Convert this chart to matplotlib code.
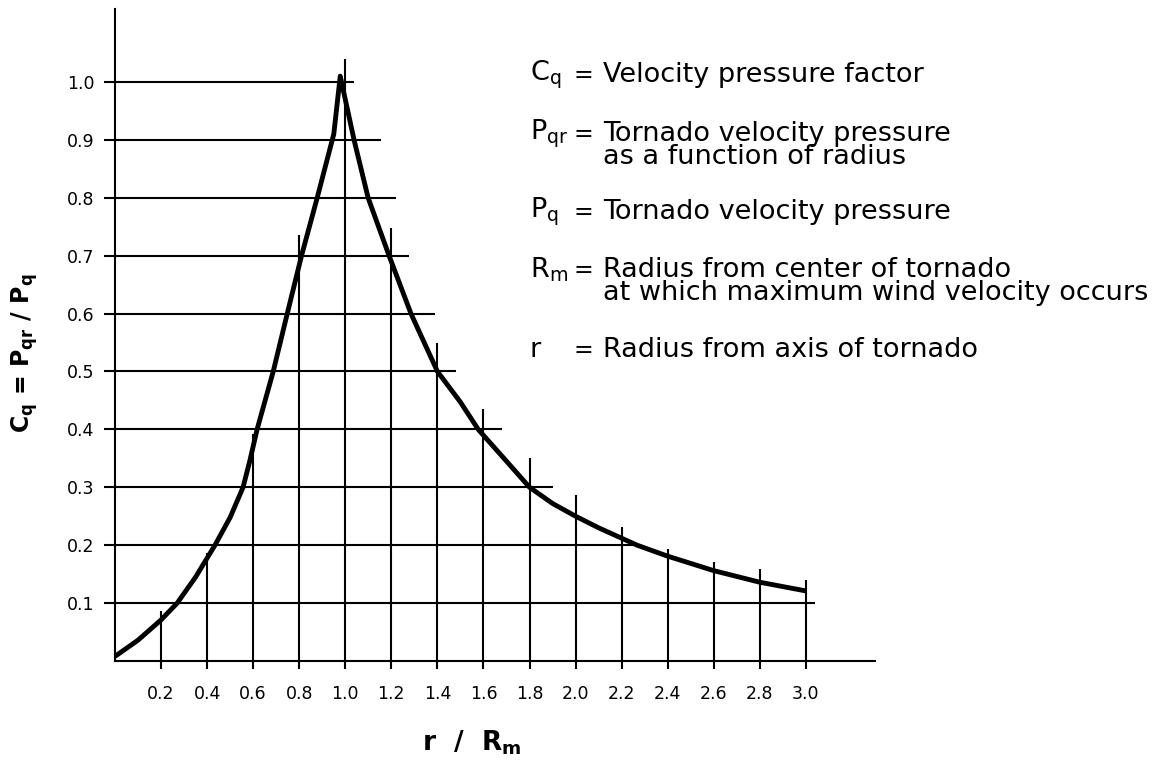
import matplotlib
matplotlib.use("Agg")
import matplotlib.pyplot as plt

plt.rcParams['font.family'] = ['DejaVu Sans']
plt.rcParams['mathtext.default'] = 'regular'

# Cq curve (r/Rm, Cq)
r_vals = [0.0, 0.1, 0.2, 0.27, 0.35, 0.434, 0.5, 0.556, 0.585, 0.617, 0.687, 0.748,
          0.81, 0.878, 0.95, 0.978,
          1.038, 1.099, 1.19, 1.285, 1.40, 1.5, 1.577, 1.7, 1.80, 1.9, 2.0, 2.1,
          2.267, 2.4, 2.6, 2.8, 3.0]
cq_vals = [0.008, 0.036, 0.071, 0.10, 0.145, 0.20, 0.248, 0.30, 0.345, 0.40, 0.50, 0.60,
           0.70, 0.80, 0.91, 1.01,
           0.90, 0.80, 0.70, 0.60, 0.50, 0.447, 0.40, 0.345, 0.30, 0.272, 0.25, 0.23,
           0.20, 0.181, 0.156, 0.136, 0.121]

# grid: horizontal lines (level, how far right they run)
h_levels = [0.1, 0.2, 0.3, 0.4, 0.5, 0.6, 0.7, 0.8, 0.9, 1.0]
h_ends = [3.04, 2.27, 1.90, 1.68, 1.48, 1.39, 1.277, 1.22, 1.155, 1.038]
y_labels = ['0.1', '0.2', '0.3', '0.4', '0.5', '0.6', '0.7', '0.8', '0.9', '1.0']

# vertical lines (position, how high they run)
v_pos = [0.2, 0.4, 0.6, 0.8, 1.0, 1.2, 1.4, 1.6, 1.8, 2.0, 2.2, 2.4, 2.6, 2.8, 3.0]
v_tops = [0.086, 0.186, 0.392, 0.736, 1.04, 0.748, 0.55, 0.435, 0.351, 0.287,
          0.232, 0.193, 0.171, 0.159, 0.14]
x_labels = ['0.2', '0.4', '0.6', '0.8', '1.0', '1.2', '1.4', '1.6', '1.8', '2.0',
            '2.2', '2.4', '2.6', '2.8', '3.0']

legend_rows = [
    ('$C_q$', 'Velocity pressure factor'),
    ('$P_{qr}$', 'Tornado velocity pressure\nas a function of radius'),
    ('$P_q$', 'Tornado velocity pressure'),
    ('$R_m$', 'Radius from center of tornado\nat which maximum wind velocity occurs'),
    ('r', 'Radius from axis of tornado'),
]
legend_y = [75, 134, 212, 270, 350]

W, H = 1175, 763
fig = plt.figure(figsize=(W / 100, H / 100), dpi=100)
ax = fig.add_axes([115 / W, (H - 661) / H, (875 - 115) / W, (661 - 9) / H])
ax.set_xlim(0, 3.3)
ax.set_ylim(0, 1.126)

for s in ['top', 'right']:
    ax.spines[s].set_visible(False)
for s in ['left', 'bottom']:
    ax.spines[s].set_linewidth(1.5)

ax.hlines(h_levels, 0, h_ends, color='black', lw=1.5)
ax.vlines(v_pos, 0, v_tops, color='black', lw=1.5)
ax.plot(r_vals, cq_vals, color='black', lw=3.5, solid_joinstyle='round',
        solid_capstyle='butt', clip_on=False)

ax.set_xticks(v_pos, labels=x_labels)
ax.set_yticks(h_levels, labels=y_labels)
ax.tick_params(axis='x', direction='out', length=6, width=1.5, pad=11, labelsize=12.5)
ax.tick_params(axis='y', direction='out', length=8, width=1.5, pad=7, labelsize=12.5)

# axis titles
fig.text(472 / W, 1 - 743 / H, 'r  /  $R_m$', ha='center', va='center',
         fontsize=19, fontweight='bold')
fig.text(25 / W, 1 - 353 / H, '$C_q$ = $P_{qr}$ / $P_q$', ha='center', va='center',
         rotation=90, fontsize=17, fontweight='bold')

# definitions
fs = 19.5
for (sym, desc), yy in zip(legend_rows, legend_y):
    fig.text(530 / W, 1 - yy / H, sym, ha='left', va='center', fontsize=fs)
    fig.text(574 / W, 1 - yy / H, '=', ha='left', va='center', fontsize=17)
    # top of the first line sits ~11 px above its centre
    fig.text(603 / W, 1 - (yy - 13) / H, desc, ha='left', va='top', fontsize=fs,
             linespacing=0.85)

fig.savefig('out.png', dpi=100)
